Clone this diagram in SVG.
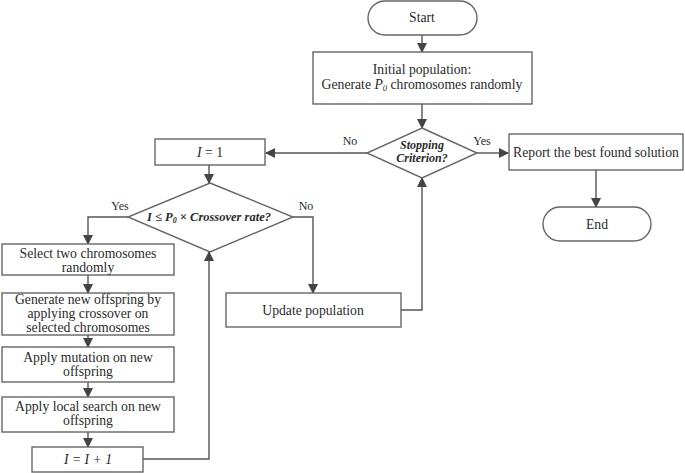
<svg xmlns="http://www.w3.org/2000/svg" width="685" height="473" viewBox="0 0 685 473">
<defs>
<marker id="ah" markerWidth="10" markerHeight="10" refX="9" refY="5" orient="auto" markerUnits="userSpaceOnUse">
<path d="M0,0 L10,5 L0,10 z" fill="#444"/>
</marker>
<style>
.s{fill:#fff;stroke:#666;stroke-width:1.4}
.c{fill:none;stroke:#555;stroke-width:1.4}
text{font-size:13.7px;fill:#2a2a2a;text-anchor:middle}
.l{font-size:12px}
.bi{font-weight:bold;font-style:italic;font-size:12.5px}
.sc{font-size:12px}
.i{font-style:italic}
</style>
</defs>
<rect width="685" height="473" fill="#fff"/>
<g font-family="'Liberation Serif', 'Times New Roman', serif">
<g id="connectors">
<path class="c" d="M422,35 V52" marker-end="url(#ah)"/>
<path class="c" d="M422,104 V128" marker-end="url(#ah)"/>
<path class="c" d="M367,153 H266" marker-end="url(#ah)"/>
<path class="c" d="M477,153 H508" marker-end="url(#ah)"/>
<path class="c" d="M596,170 V207" marker-end="url(#ah)"/>
<path class="c" d="M209,165 V183" marker-end="url(#ah)"/>
<path class="c" d="M128,217 H88 V244" marker-end="url(#ah)"/>
<path class="c" d="M293,217 H313 V293" marker-end="url(#ah)"/>
<path class="c" d="M401,310 H422 V178" marker-end="url(#ah)"/>
<path class="c" d="M88,275 V293" marker-end="url(#ah)"/>
<path class="c" d="M88,335 V347" marker-end="url(#ah)"/>
<path class="c" d="M88,382 V397" marker-end="url(#ah)"/>
<path class="c" d="M88,432 V447" marker-end="url(#ah)"/>
<path class="c" d="M143,459 H209 V252" marker-end="url(#ah)"/>
<text class="l" x="350" y="145">No</text>
<text class="l" x="482" y="145">Yes</text>
<text class="l" x="120" y="210">Yes</text>
<text class="l" x="306" y="210">No</text>
</g>
<g id="start">
<rect class="s" x="368" y="1" width="109" height="34" rx="17"/>
<text x="422" y="22">Start</text>
</g>
<g id="init">
<rect class="s" x="313" y="52" width="219" height="52"/>
<text x="422" y="74">Initial population:<tspan x="422" dy="15">Generate </tspan><tspan class="i">P<tspan font-size="8.5" dy="2">0</tspan></tspan><tspan dy="-2"> chromosomes randomly</tspan></text>
</g>
<g id="stop">
<polygon class="s" points="422,128 477,153 422,178 367,153"/>
<text class="bi sc" x="422" y="148.5">Stopping<tspan x="422" dy="13">Criterion?</tspan></text>
</g>
<g id="report">
<rect class="s" x="509" y="134" width="174" height="36"/>
<text x="596" y="157">Report the best found solution</text>
</g>
<g id="end">
<rect class="s" x="543" y="207" width="108" height="34" rx="17"/>
<text x="597" y="229">End</text>
</g>
<g id="i1">
<rect class="s" x="155" y="139" width="110" height="26"/>
<text x="210" y="157"><tspan class="i">I</tspan> = 1</text>
</g>
<g id="cross">
<polygon class="s" points="210,183 293,217 210,252 128,217"/>
<text class="bi" x="209" y="221">I ≤ P<tspan font-size="8" dy="2">0</tspan><tspan dy="-2"> × Crossover rate?</tspan></text>
</g>
<g id="select">
<rect class="s" x="2" y="244" width="172" height="31"/>
<text x="88" y="258">Select two chromosomes<tspan x="88" dy="14">randomly</tspan></text>
</g>
<g id="gen">
<rect class="s" x="2" y="293" width="172" height="42"/>
<text x="88" y="304">Generate new offspring by<tspan x="88" dy="14">applying crossover on</tspan><tspan x="88" dy="13.5">selected chromosomes</tspan></text>
</g>
<g id="mut">
<rect class="s" x="2" y="347" width="172" height="35"/>
<text x="88" y="362">Apply mutation on new<tspan x="88" dy="14">offspring</tspan></text>
</g>
<g id="ls">
<rect class="s" x="2" y="397" width="172" height="35"/>
<text x="88" y="411">Apply local search on new<tspan x="88" dy="14">offspring</tspan></text>
</g>
<g id="inc">
<rect class="s" x="32" y="447" width="111" height="25"/>
<text class="i" x="88" y="464">I = I + 1</text>
</g>
<g id="update">
<rect class="s" x="226" y="293" width="175" height="34"/>
<text x="313" y="315">Update population</text>
</g>
</g>
</svg>
